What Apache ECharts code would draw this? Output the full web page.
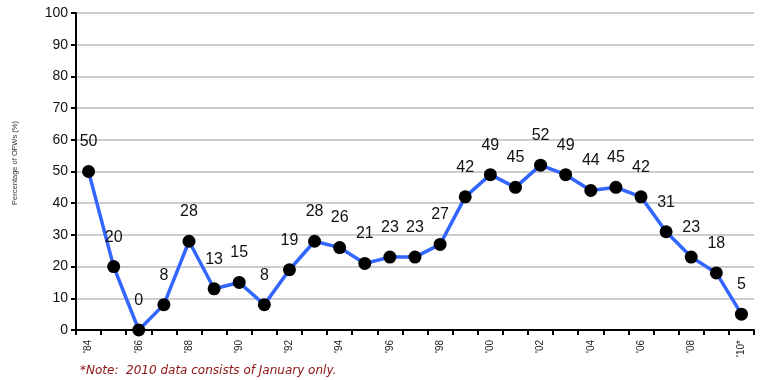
<!DOCTYPE html>
<html>
<head>
<meta charset="utf-8">
<script src="https://cdn.jsdelivr.net/npm/echarts@6/dist/echarts.min.js"></script>
<style>
  html, body { margin: 0; padding: 0; background: #fff; }
  #chart { width: 763px; height: 380px; }
</style>
</head>
<body>
<div id="chart"></div>
<script>
// Years 1984–2010 (2010 covers January only)
const years = ["'84","'85","'86","'87","'88","'89","'90","'91","'92","'93","'94","'95","'96","'97",
               "'98","'99","'00","'01","'02","'03","'04","'05","'06","'07","'08","'09","'10*"];
// Share of OFWs per year, percent
const shares = [50, 20, 0, 8, 28, 13, 15, 8, 19, 28, 26, 21, 23, 23,
                27, 42, 49, 45, 52, 49, 44, 45, 42, 31, 23, 18, 5];
const yTicks = [0, 10, 20, 30, 40, 50, 60, 70, 80, 90, 100];

const chart = echarts.init(document.getElementById('chart'), null, { renderer: 'canvas' });
const font = 'Liberation Sans, Arial, Helvetica, sans-serif';

chart.setOption({
  animation: false,
  backgroundColor: '#fff',
  grid: { left: 76, right: 9, top: 13, bottom: 50, containLabel: false },
  xAxis: {
    type: 'category',
    data: years,
    boundaryGap: true,
    axisLine: { lineStyle: { color: '#000', width: 2 } },
    axisTick: { show: true, interval: 0, length: 5, lineStyle: { color: '#000', width: 2 } },
    axisLabel: {
      interval: 1, rotate: 90, margin: 10,
      fontFamily: font, fontSize: 10, color: '#222'
    },
    splitLine: { show: false }
  },
  yAxis: {
    type: 'value',
    min: yTicks[0], max: yTicks[yTicks.length - 1], interval: 10,
    axisLine: { show: true, lineStyle: { color: '#000', width: 2 } },
    axisTick: { show: true, length: 5, lineStyle: { color: '#000', width: 2 } },
    axisLabel: { fontFamily: font, fontSize: 14, color: '#111', margin: 8 },
    splitLine: { show: true, lineStyle: { color: '#bdbdbd', width: 1.5 } }
  },
  series: [{
    type: 'line',
    data: shares,
    symbol: 'circle',
    symbolSize: 13,
    itemStyle: { color: '#000' },
    lineStyle: { color: '#3366ff', width: 3.5 },
    label: {
      show: true, position: 'top', distance: 15,
      fontFamily: font, fontSize: 16, color: '#111'
    },
    z: 3
  }],
  graphic: [{
    // vertical axis title
    type: 'text',
    x: 15, y: 163,
    rotation: Math.PI / 2,
    style: {
      text: 'Percentage of OFWs (%)',
      font: '7.5px ' + font,
      fill: '#333',
      textAlign: 'center',
      textVerticalAlign: 'middle'
    }
  }, {
    type: 'text',
    left: 80, top: 365,
    style: {
      text: '*Note:  2010 data consists of January only.',
      font: 'italic 12px DejaVu Sans, Verdana, sans-serif',
      fill: '#8b1010'
    }
  }]
});
</script>
</body>
</html>
